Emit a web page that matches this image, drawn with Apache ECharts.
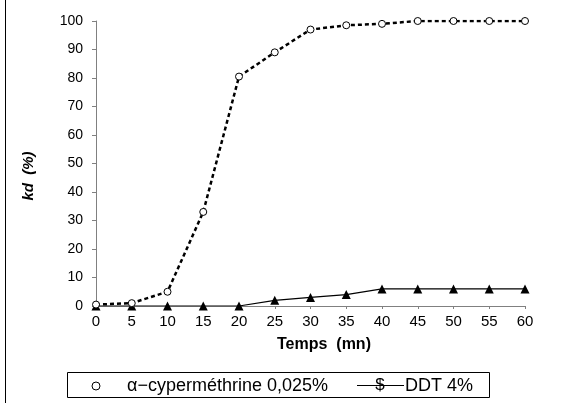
<!DOCTYPE html>
<html><head><meta charset="utf-8">
<script src="https://cdn.jsdelivr.net/npm/echarts@6/dist/echarts.min.js"></script>
<style>html,body{margin:0;padding:0;background:#fff}#c{width:575px;height:403px}</style>
</head><body><div id="c"></div>
<script>
var times = [0,5,10,15,20,25,30,35,40,45,50,55,60];
var cyper = [0.5,1,5,33,80.5,89,97,98.5,99,100,100,100,100];
var ddt = [0,0,0,0,0,2,3,4,6,6,6,6,6];
var legendNames = ['α−cyperméthrine 0,025%', 'DDT 4%'];
var axisNames = {x: 'Temps  (mn)', y: 'kd  (%)'};

function pairs(xs, ys){ return xs.map(function(x,i){ return [x, ys[i]]; }); }

var chart = echarts.init(document.getElementById('c'));
var font = 'Liberation Sans, Arial, sans-serif';
chart.setOption({
  animation: false,
  grid: {left: 96, right: 50, top: 21, bottom: 97},
  xAxis: {
    type: 'value', min: 0, max: 60, interval: 5,
    axisLine: {show: true, onZero: false, lineStyle: {color: '#808080', width: 1}},
    axisTick: {show: true, length: 3, lineStyle: {color: '#808080'}},
    axisLabel: {fontFamily: font, fontSize: 15, color: '#000', margin: 8},
    splitLine: {show: false}
  },
  yAxis: {
    type: 'value', min: 0, max: 100, interval: 10,
    axisLine: {show: true, lineStyle: {color: '#808080', width: 1}},
    axisTick: {show: true, length: 4, lineStyle: {color: '#808080'}},
    axisLabel: {fontFamily: font, fontSize: 14, color: '#000', margin: 13},
    splitLine: {show: false}
  },
  series: [
    {
      name: legendNames[0], type: 'line', data: pairs(times, cyper),
      symbol: 'circle', symbolSize: 7,
      itemStyle: {color: '#fff', borderColor: '#000', borderWidth: 1},
      lineStyle: {color: '#000', width: 2.5, type: [4,3]},
      z: 3
    },
    {
      name: legendNames[1], type: 'line', data: pairs(times, ddt),
      symbol: 'triangle', symbolSize: 9,
      itemStyle: {color: '#000'},
      lineStyle: {color: '#000', width: 1.2},
      z: 2
    }
  ],
  graphic: [
    {type: 'line', shape: {x1: 5.5, y1: 0, x2: 5.5, y2: 403}, style: {stroke: '#000', lineWidth: 1}},
    {type: 'text', x: 324, y: 345, style: {text: axisNames.x, fontFamily: font, fontSize: 16, fontWeight: 'bold', fill: '#000', align: 'center', verticalAlign: 'middle'}},
    {type: 'text', x: 29, y: 176, rotation: Math.PI/2, style: {text: axisNames.y, fontFamily: font, fontSize: 15, fontWeight: 'bold', fontStyle: 'italic', fill: '#000', align: 'center', verticalAlign: 'middle'}},
    {type: 'rect', shape: {x: 67.5, y: 372.5, width: 422, height: 25}, style: {fill: '#fff', stroke: '#000', lineWidth: 1}},
    {type: 'circle', shape: {cx: 96, cy: 386, r: 4}, style: {fill: '#fff', stroke: '#000', lineWidth: 1}},
    {type: 'text', x: 127, y: 386, style: {text: legendNames[0], fontFamily: font, fontSize: 18, fill: '#000', verticalAlign: 'middle'}},
    {type: 'line', shape: {x1: 357, y1: 385.5, x2: 404, y2: 385.5}, style: {stroke: '#000', lineWidth: 1}},
    {type: 'text', x: 380, y: 385, style: {text: '$', fontFamily: font, fontSize: 17, fill: '#000', align: 'center', verticalAlign: 'middle'}},
    {type: 'text', x: 405, y: 386, style: {text: legendNames[1], fontFamily: font, fontSize: 18, fill: '#000', verticalAlign: 'middle'}}
  ]
});
</script></body></html>
